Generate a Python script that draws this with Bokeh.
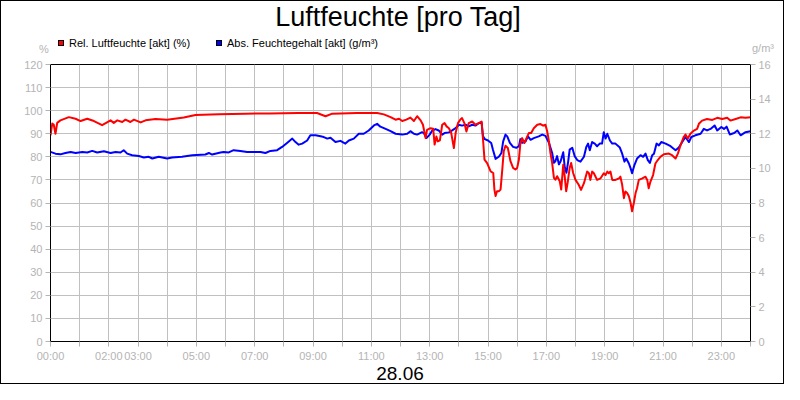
from bokeh.plotting import figure
from bokeh.models import Range1d, LinearAxis, FixedTicker, Div
from bokeh.layouts import column
from bokeh.embed import file_html
from bokeh.resources import INLINE

# ---------------- data (time in hours of day) ----------------
title_text = "Luftfeuchte [pro Tag]"
date_text = "28.06"
rel_label = "Rel. Luftfeuchte [akt] (%)"
abs_label = "Abs. Feuchtegehalt [akt] (g/m³)"
left_unit = "%"
right_unit = "g/m³"
x_labeled_hours = [0, 2, 3, 5, 7, 9, 11, 13, 15, 17, 19, 21, 23]

rel_hours = [0.00, 0.06, 0.11, 0.17, 0.23, 0.34, 0.63, 0.86, 1.03, 1.26, 1.49, 1.77, 2.06, 2.17, 2.29,
             2.46, 2.57, 2.74, 2.86, 3.09, 3.26, 3.60, 4.00, 4.57, 4.97, 5.77, 6.69, 7.50, 8.50, 9.14,
             9.43, 9.66, 10.51, 11.20, 11.43, 11.66, 11.83, 11.95, 12.06, 12.20, 12.34, 12.46, 12.57,
             12.69, 12.77, 12.86, 12.91, 13.03, 13.12, 13.17, 13.23, 13.28, 13.35, 13.43, 13.51, 13.58,
             13.66, 13.74, 13.83, 13.89, 13.97, 14.06, 14.11, 14.19, 14.26, 14.34, 14.46, 14.57, 14.68,
             14.78, 14.83, 14.88, 14.97, 15.09, 15.18, 15.22, 15.26, 15.31, 15.37, 15.43, 15.49, 15.54,
             15.60, 15.68, 15.77, 15.86, 15.94, 16.00, 16.06, 16.11, 16.17, 16.25, 16.32, 16.40, 16.48,
             16.57, 16.69, 16.80, 16.89, 16.97, 17.03, 17.09, 17.14, 17.20, 17.26, 17.31, 17.37, 17.46,
             17.51, 17.58, 17.63, 17.68, 17.73, 17.80, 17.85, 17.92, 18.00, 18.11, 18.19, 18.29, 18.40,
             18.46, 18.51, 18.57, 18.63, 18.74, 18.86, 18.97, 19.03, 19.09, 19.14, 19.20, 19.26, 19.37,
             19.49, 19.54, 19.60, 19.66, 19.71, 19.77, 19.83, 19.89, 19.94, 20.00, 20.06, 20.11, 20.17,
             20.29, 20.40, 20.46, 20.51, 20.57, 20.66, 20.74, 20.82, 20.91, 21.03, 21.20, 21.31, 21.43,
             21.51, 21.60, 21.71, 21.77, 21.85, 21.94, 22.06, 22.17, 22.23, 22.34, 22.51, 22.69, 22.86,
             23.03, 23.20, 23.31, 23.49, 23.66, 23.83, 24.00]
rel_values = [89.3, 94.4, 94.0, 90.0, 94.7, 95.8, 97.2, 96.5, 95.5, 96.5, 95.5, 93.7, 95.8, 94.7, 95.8,
              95.1, 96.1, 95.1, 96.1, 94.9, 95.8, 96.4, 96.1, 97.0, 98.1, 98.4, 98.7, 98.8, 99.0, 99.0,
              97.6, 98.7, 99.0, 99.0, 98.4, 97.2, 96.1, 96.5, 95.5, 96.1, 97.0, 95.5, 97.6,
              95.8, 93.9, 88.1, 91.7, 92.4, 92.2, 85.3, 88.8, 86.7, 87.1, 93.9, 94.6, 93.2,
              92.4, 90.3, 83.8, 90.3, 94.6, 96.3, 96.8, 94.6, 91.0, 94.6, 95.3, 93.9, 94.6,
              95.3, 87.4, 78.8, 77.3, 73.7, 73.0, 65.8, 63.0, 65.1, 65.1, 65.8, 74.5, 82.4,
              84.8, 83.8, 78.1, 75.2, 74.5, 75.2, 78.8, 86.0, 88.1, 86.0, 88.1, 90.3, 90.3,
              92.4, 93.9, 94.2, 93.5, 93.9, 91.0, 86.7, 81.7, 77.3, 70.9, 70.1, 71.6, 69.4,
              65.8, 76.6, 71.6, 65.1, 68.7, 75.2, 77.3, 73.0, 70.0, 67.9, 65.7, 68.6, 73.6,
              72.9, 70.0, 73.6, 72.9, 70.0, 70.7, 72.9, 72.1, 73.6, 72.9, 73.6, 70.0, 70.0,
              70.7, 71.4, 67.9, 62.1, 65.0, 64.3, 62.9, 60.0, 56.4, 60.0, 64.3, 66.4, 70.0,
              70.7, 71.4, 70.0, 66.4, 69.3, 72.1, 77.1, 78.6, 80.0, 81.1, 81.4, 80.7, 79.3,
              81.4, 85.0, 88.6, 89.7, 87.9, 90.0, 91.4, 92.1, 94.3, 95.7, 96.4, 96.0, 96.9,
              96.4, 96.9, 95.7, 96.4, 97.1, 96.9, 97.1]

abs_hours = [0.00, 0.17, 0.34, 0.51, 0.69, 0.86, 1.09, 1.26, 1.43, 1.60, 1.83, 2.06, 2.23, 2.40, 2.51,
             2.63, 2.80, 3.03, 3.20, 3.37, 3.49, 3.71, 4.00, 4.17, 4.51, 4.86, 5.31, 5.43, 5.54, 5.83,
             5.94, 6.11, 6.28, 6.51, 6.74, 7.20, 7.37, 7.54, 7.77, 7.94, 8.11, 8.29, 8.40, 8.51, 8.63,
             8.80, 8.91, 9.09, 9.26, 9.37, 9.49, 9.60, 9.77, 9.94, 10.11, 10.23, 10.40, 10.57, 10.74,
             10.91, 11.09, 11.20, 11.31, 11.49, 11.66, 11.83, 12.06, 12.23, 12.34, 12.46, 12.57, 12.74,
             12.80, 12.89, 13.00, 13.09, 13.20, 13.31, 13.43, 13.51, 13.66, 13.77, 13.89, 14.00, 14.11,
             14.23, 14.34, 14.46, 14.57, 14.68, 14.78, 14.83, 14.89, 15.00, 15.11, 15.17, 15.26, 15.37,
             15.46, 15.52, 15.60, 15.66, 15.75, 15.86, 15.97, 16.06, 16.11, 16.17, 16.29, 16.37, 16.46,
             16.57, 16.74, 16.86, 16.97, 17.09, 17.20, 17.26, 17.31, 17.37, 17.43, 17.49, 17.58, 17.63,
             17.69, 17.75, 17.80, 17.89, 17.97, 18.06, 18.17, 18.29, 18.37, 18.43, 18.49, 18.57, 18.66,
             18.74, 18.83, 18.91, 18.97, 19.03, 19.09, 19.18, 19.26, 19.37, 19.52, 19.60, 19.68, 19.74,
             19.83, 19.89, 19.94, 20.02, 20.11, 20.23, 20.32, 20.40, 20.48, 20.55, 20.63, 20.69, 20.78,
             20.86, 20.94, 21.09, 21.26, 21.43, 21.54, 21.66, 21.77, 21.89, 21.97, 22.11, 22.29, 22.40,
             22.51, 22.63, 22.77, 22.86, 23.00, 23.09, 23.18, 23.29, 23.44, 23.55, 23.66, 23.83, 24.00]
abs_values = [10.95, 10.85, 10.81, 10.89, 10.95, 10.89, 10.95, 10.92, 11.01, 10.92, 10.99, 10.89, 10.95,
              10.92, 11.05, 10.85, 10.76, 10.71, 10.63, 10.67, 10.57, 10.67, 10.57, 10.63, 10.67, 10.76,
              10.80, 10.89, 10.80, 10.92, 10.95, 10.92, 11.05, 11.01, 10.95, 10.95, 10.89, 11.01, 11.05,
              11.24, 11.47, 11.72, 11.52, 11.37, 11.43, 11.61, 11.91, 11.91, 11.85, 11.81, 11.72, 11.77,
              11.52, 11.59, 11.43, 11.61, 11.72, 12.00, 12.00, 12.19, 12.48, 12.57, 12.41, 12.28, 12.15,
              12.00, 11.95, 12.00, 12.15, 12.00, 11.95, 12.09, 12.04, 11.75, 11.95, 12.19, 12.27, 12.19,
              11.95, 12.04, 12.08, 12.19, 12.32, 12.52, 12.47, 12.52, 12.43, 12.52, 12.47, 12.61, 12.65,
              11.85, 11.69, 11.61, 11.47, 11.08, 10.55, 10.67, 10.89, 11.56, 11.95, 11.85, 11.47, 11.24,
              11.19, 11.28, 11.69, 11.47, 11.56, 11.85, 11.65, 11.75, 11.85, 11.95, 11.88, 11.47, 10.89,
              10.32, 10.41, 10.71, 10.23, 10.41, 10.93, 10.09, 9.75, 10.41, 11.08, 11.19, 10.71, 10.48,
              10.39, 10.67, 11.24, 11.43, 11.05, 11.52, 11.43, 11.28, 11.43, 11.43, 12.09, 11.72, 12.00,
              11.61, 11.43, 11.43, 11.20, 10.85, 10.39, 10.57, 10.28, 10.00, 9.72, 10.19, 10.57, 10.76,
              10.67, 10.85, 10.48, 10.32, 10.76, 10.85, 11.43, 11.33, 11.52, 11.43, 11.28, 11.05, 11.20,
              11.52, 11.81, 11.52, 11.81, 11.91, 12.00, 12.28, 12.19, 12.28, 12.48, 12.19, 12.39, 12.28,
              12.41, 11.96, 12.04, 12.19, 11.91, 12.09, 12.15]

# ---------------- styling ----------------
FONT = "'Liberation Sans', Arial, sans-serif"
AXFONT = "Liberation Sans"
GRAY = "#b4b4b4"
GRID = "#c0c0c0"
RED = "#ff0000"
BLUE = "#0000ff"

W = 782
TOP_H = 56
BOT_H = 19
FIG_H = 382 - TOP_H - BOT_H

p = figure(width=W, height=FIG_H, x_range=Range1d(0, 24), y_range=Range1d(0, 120),
           output_backend="svg", toolbar_location=None, margin=0,
           min_border_left=49, min_border_right=33, min_border_top=7, min_border_bottom=22)
p.background_fill_color = "white"
p.border_fill_color = "white"
p.outline_line_color = "black"
p.outline_line_width = 1

p.extra_y_ranges = {"abs": Range1d(0, 16)}

p.xaxis.ticker = FixedTicker(ticks=list(range(25)))
p.xaxis.major_label_overrides = {h: ("%02d:00" % h if h in x_labeled_hours else "") for h in range(25)}
p.yaxis.ticker = FixedTicker(ticks=list(range(0, 121, 10)))

right = LinearAxis(y_range_name="abs", ticker=FixedTicker(ticks=list(range(0, 17, 2))))
p.add_layout(right, "right")

for ax in [p.xaxis[0], p.yaxis[0], right]:
    ax.axis_line_color = "black"
    ax.axis_line_width = 1
    ax.major_tick_line_color = GRAY
    ax.major_tick_in = 0
    ax.major_tick_out = 5
    ax.minor_tick_line_color = None
    ax.major_label_text_color = GRAY
    ax.major_label_text_font = AXFONT
    ax.major_label_text_font_size = "11px"
    ax.major_label_standoff = 3

p.xgrid.grid_line_color = GRID
p.ygrid.grid_line_color = GRID

p.line(abs_hours, abs_values, y_range_name="abs", line_color=BLUE, line_width=2, line_join="round")
p.line(rel_hours, rel_values, line_color=RED, line_width=2, line_join="round")

# ---------------- header / footer texts (HTML) ----------------
def span(text, left, top, size, color, extra=""):
    return (f'<span style="position:absolute;left:{left}px;top:{top}px;font-family:{FONT};'
            f'font-size:{size}px;line-height:{size}px;color:{color};white-space:nowrap;{extra}">{text}</span>')

def square(left, top, color):
    return (f'<span style="position:absolute;left:{left}px;top:{top}px;width:6px;height:6px;'
            f'background:{color};border:1px solid black;"></span>')

header_html = (
    f'<div style="position:relative;width:{W}px;height:{TOP_H}px;">'
    + span(title_text, 397, 3, 27, "black", "transform:translateX(-50%);")
    + square(57, 39, RED)
    + span(rel_label, 68, 37, 11, "black")
    + square(215, 39, BLUE)
    + span(abs_label, 226, 37, 11, "black")
    + span(left_unit, 38, 43, 11, GRAY)
    + span(right_unit, 751, 42, 11, GRAY)
    + '</div>'
)
footer_html = (
    f'<div style="position:relative;width:{W}px;height:{BOT_H}px;">'
    + span(date_text, 399, 0, 19, "black", "transform:translateX(-50%);")
    + '</div>'
)

header = Div(text=header_html, width=W, height=TOP_H, margin=0, styles={"overflow": "visible"})
footer = Div(text=footer_html, width=W, height=BOT_H, margin=0, styles={"overflow": "visible"})

layout = column(header, p, footer, spacing=0, margin=0,
                styles={"border": "1px solid black", "background-color": "white"})

open("out.html", "w").write(file_html(layout, INLINE))
